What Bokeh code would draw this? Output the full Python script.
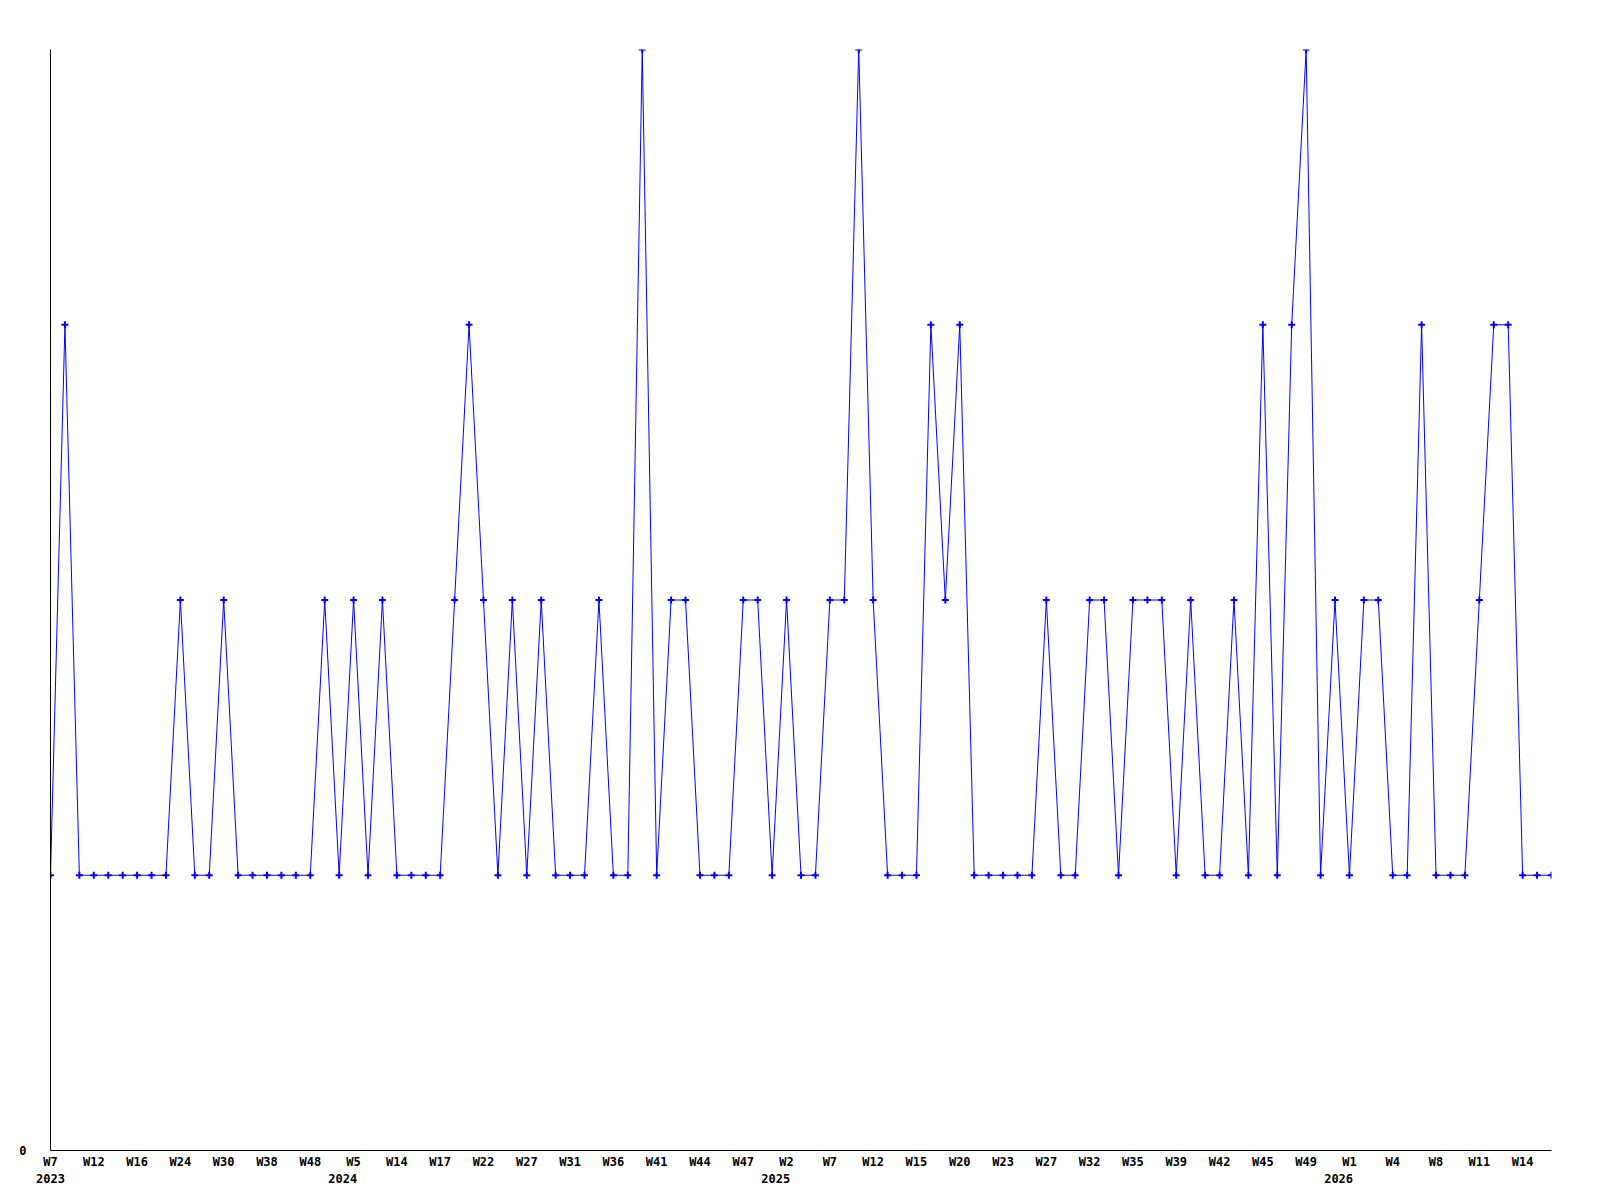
from bokeh.plotting import figure
from bokeh.models import Range1d, FixedTicker, LinearAxis, ColumnDataSource
from bokeh.embed import file_html
from bokeh.resources import INLINE

# Weekly counts (one point per week with activity), 2023 W7 .. 2026 W15
counts = [1, 3, 1, 1, 1, 1, 1, 1, 1, 2,
          1, 1, 2, 1, 1, 1, 1, 1, 1, 2,
          1, 2, 1, 2, 1, 1, 1, 1, 2, 3,
          2, 1, 2, 1, 2, 1, 1, 1, 2, 1,
          1, 4, 1, 2, 2, 1, 1, 1, 2, 2,
          1, 2, 1, 1, 2, 2, 4, 2, 1, 1,
          1, 3, 2, 3, 1, 1, 1, 1, 1, 2,
          1, 1, 2, 2, 1, 2, 2, 2, 1, 2,
          1, 1, 2, 1, 3, 1, 3, 4, 1, 2,
          1, 2, 2, 1, 1, 3, 1, 1, 1, 2,
          3, 3, 1, 1, 1]

# Week tick labels, shown on every third point
week_labels = ["W7", "W12", "W16", "W24", "W30", "W38", "W48",
               "W5", "W14", "W17", "W22", "W27", "W31", "W36", "W41", "W44", "W47",
               "W2", "W7", "W12", "W15", "W20", "W23", "W27", "W32", "W35", "W39",
               "W42", "W45", "W49",
               "W1", "W4", "W8", "W11", "W14"]
label_step = 3

# Year labels: (index of week label where year starts, year)
year_starts = [0, 7, 17, 30]
year_labels = ["2023", "2024", "2025", "2026"]

idx = list(range(len(counts)))
src = ColumnDataSource(data=dict(x=idx, y=counts))

tick_pos = [i * label_step for i in range(len(week_labels))]
# year labels sit slightly left of their week label (right-aligned look)
year_pos = [max(0, tick_pos[k] - 0.75) for k in year_starts]

FONT = "DejaVu Sans Mono"
FSIZE = "12px"
BLUE = "#0000FF"

p = figure(frame_width=1501, frame_height=1101,
           x_range=Range1d(0, len(counts) - 1), y_range=Range1d(0, 4),
           output_backend="svg", toolbar_location=None,
           min_border_left=50, min_border_top=49,
           min_border_right=41, min_border_bottom=20)
p.outline_line_color = None
p.xgrid.visible = False
p.ygrid.visible = False
p.background_fill_color = "white"
p.border_fill_color = "white"

xa = p.xaxis[0]
xa.ticker = FixedTicker(ticks=tick_pos, minor_ticks=[])
xa.major_label_overrides = {t: lab for t, lab in zip(tick_pos, week_labels)}
xa.major_tick_line_color = None
xa.minor_tick_line_color = None
xa.major_tick_out = 0
xa.major_tick_in = 0
xa.major_label_standoff = 4
xa.major_label_text_font = FONT
xa.major_label_text_font_style = "bold"
xa.major_label_text_font_size = FSIZE
xa.major_label_text_color = "black"
xa.axis_line_color = "black"

ya = p.yaxis[0]
ya.ticker = FixedTicker(ticks=[0], minor_ticks=[])
ya.major_tick_line_color = None
ya.minor_tick_line_color = None
ya.major_tick_out = 0
ya.major_tick_in = 0
ya.major_label_standoff = 24
ya.major_label_text_font = FONT
ya.major_label_text_font_style = "bold"
ya.major_label_text_font_size = FSIZE
ya.major_label_text_color = "black"
ya.axis_line_color = "black"

yr = LinearAxis(ticker=FixedTicker(ticks=year_pos, minor_ticks=[]))
yr.major_label_overrides = {t: lab for t, lab in zip(year_pos, year_labels)}
yr.axis_line_color = None
yr.major_tick_line_color = None
yr.minor_tick_line_color = None
yr.major_tick_out = 0
yr.major_tick_in = 0
yr.major_label_standoff = 2
yr.major_label_text_font = FONT
yr.major_label_text_font_style = "bold"
yr.major_label_text_font_size = FSIZE
yr.major_label_text_color = "black"
p.add_layout(yr, "below")

p.line("x", "y", source=src, line_color=BLUE, line_width=1)
p.scatter("x", "y", source=src, marker="cross", size=7, line_width=2,
          line_color=BLUE)

open("out.html", "w").write(file_html(p, INLINE))
